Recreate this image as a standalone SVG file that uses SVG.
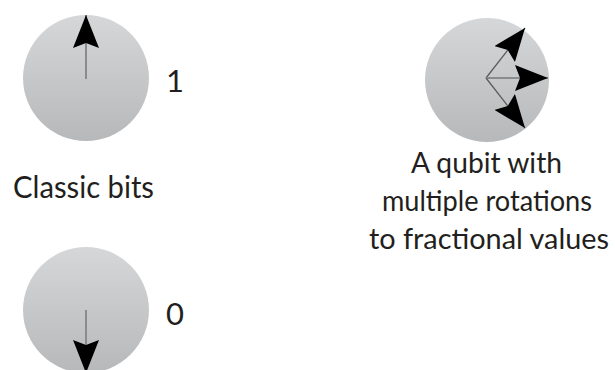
<svg xmlns="http://www.w3.org/2000/svg" width="615" height="370" viewBox="0 0 615 370">
  <style>
    .dial { fill: url(#dialFill); }
    .stem { stroke: #8a8b8d; stroke-width: 2; fill: none; }
    .ray { stroke: #5a5b5d; stroke-width: 1.3; fill: none; }
    .label { font-family: Lato, "Liberation Sans", sans-serif; font-size: 31px; fill: #231f20; }
    .caption { font-family: Lato, "Liberation Sans", sans-serif; font-size: 28px; fill: #231f20; }
  </style>
  <defs>
    <linearGradient id="dialFill" x1="0" y1="0" x2="0" y2="1">
      <stop offset="0" stop-color="#d6d7d9"/>
      <stop offset="1" stop-color="#b7b8ba"/>
    </linearGradient>
    <marker id="head" markerUnits="userSpaceOnUse" viewBox="0 0 33 26" refX="33" refY="13" markerWidth="33" markerHeight="26" orient="auto">
      <path d="M33,13 L0,0 L5,13 L0,26 Z" fill="#000"/>
    </marker>
  </defs>

  <!-- classic bit holding 1 -->
  <g id="bit-one">
    <circle class="dial" cx="86" cy="78" r="63"/>
    <line class="stem" x1="86" y1="79" x2="86" y2="15" marker-end="url(#head)"/>
    <text class="label" x="166" y="92">1</text>
  </g>

  <!-- caption for the two classic bits -->
  <g id="classic-label">
    <text class="label" x="13" y="198" textLength="141" lengthAdjust="spacingAndGlyphs">Classic bits</text>
  </g>

  <!-- classic bit holding 0 -->
  <g id="bit-zero">
    <circle class="dial" cx="86" cy="310" r="63"/>
    <line class="stem" x1="86" y1="310" x2="86" y2="373" marker-end="url(#head)"/>
    <text class="label" x="166" y="325">0</text>
  </g>

  <!-- qubit with several rotations -->
  <g id="qubit">
    <circle class="dial" cx="487" cy="80" r="62"/>
    <g id="rotations">
      <line class="ray" x1="486" y1="78" x2="525" y2="28" marker-end="url(#head)"/>
      <line class="stem" x1="486" y1="78" x2="548" y2="78" stroke-width="2.4" marker-end="url(#head)"/>
      <line class="ray" x1="486" y1="78" x2="525" y2="128" marker-end="url(#head)"/>
    </g>
    <text class="caption" x="411" y="173" textLength="151" lengthAdjust="spacingAndGlyphs">A qubit with</text>
    <text class="caption" x="382" y="211" textLength="210" lengthAdjust="spacingAndGlyphs">multiple rotations</text>
    <text class="caption" x="369" y="249" textLength="240" lengthAdjust="spacingAndGlyphs">to fractional values</text>
  </g>
</svg>
